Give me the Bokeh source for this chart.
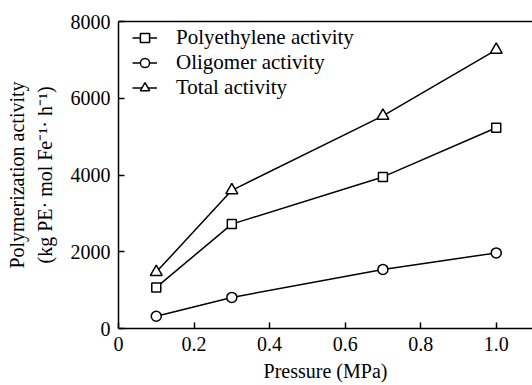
from bokeh.plotting import figure
from bokeh.models import LinearAxis, Legend, LegendItem, Title, FixedTicker, Range1d
from bokeh.embed import file_html
from bokeh.resources import INLINE

pressure = [0.1, 0.3, 0.7, 1.0]
pe_activity = [1070, 2720, 3950, 5230]
oligomer_activity = [320, 810, 1540, 1970]
total_activity = [1470, 3600, 5540, 7260]
x_ticks = [0, 0.2, 0.4, 0.6, 0.8, 1.0]
y_ticks = [0, 2000, 4000, 6000, 8000]
series_labels = ["Polyethylene activity", "Oligomer activity", "Total activity"]

FONT = "Liberation Serif"
FS = "20px"

p = figure(width=532, height=385, output_backend="svg", toolbar_location=None,
           x_range=Range1d(0, 1.096), y_range=Range1d(0, 8000),
           min_border_left=118, min_border_right=0, min_border_top=21, min_border_bottom=57)
p.outline_line_color = None
p.grid.visible = False
p.background_fill_color = "white"
p.border_fill_color = "white"

for ax in (p.xaxis[0], p.yaxis[0]):
    ax.axis_line_color = "black"
    ax.axis_line_width = 1.5
    ax.major_tick_line_color = "black"
    ax.major_tick_line_width = 1.5
    ax.major_tick_in = 6
    ax.major_tick_out = 0
    ax.minor_tick_line_color = None
    ax.major_label_text_font = FONT
    ax.major_label_text_font_size = FS
    ax.major_label_text_font_style = "normal"
    ax.major_label_text_color = "black"
    ax.axis_label_text_font = FONT
    ax.axis_label_text_font_size = FS
    ax.axis_label_text_font_style = "normal"
    ax.axis_label_text_color = "black"

p.xaxis[0].ticker = FixedTicker(ticks=x_ticks)
p.xaxis[0].major_label_overrides = {0: "0", 1: "1.0"}
p.yaxis[0].ticker = FixedTicker(ticks=y_ticks)
p.xaxis[0].axis_label = "Pressure (MPa)"
p.xaxis[0].major_label_standoff = 8
p.xaxis[0].axis_label_standoff = 6
p.yaxis[0].axis_label = "(kg PE\u00b7 mol Fe\u207b\u00b9\u00b7 h\u207b\u00b9)"
p.yaxis[0].major_label_standoff = 8
p.yaxis[0].axis_label_standoff = 12

top = LinearAxis(axis_line_color="black", axis_line_width=1.5, major_tick_line_color=None,
                 minor_tick_line_color=None, major_label_text_font_size="0px",
                 major_label_standoff=0, ticker=FixedTicker(ticks=[]))
p.add_layout(top, "above")

p.add_layout(Title(text="Polymerization activity", align="center", offset=-8,
                   text_font=FONT, text_font_size=FS, text_font_style="normal",
                   text_color="black", standoff=6), "left")

r_pe_l = p.line(pressure, pe_activity, line_color="black", line_width=1.5)
r_pe_m = p.scatter(pressure, pe_activity, marker="square", size=9, fill_color="white",
                   line_color="black", line_width=1.5)
r_ol_l = p.line(pressure, oligomer_activity, line_color="black", line_width=1.5)
r_ol_m = p.scatter(pressure, oligomer_activity, marker="circle", size=10, fill_color="white",
                   line_color="black", line_width=1.5)
r_to_l = p.line(pressure, total_activity, line_color="black", line_width=1.5)
r_to_m = p.scatter(pressure, total_activity, marker="triangle", size=12, fill_color="white",
                   line_color="black", line_width=1.5)

legend = Legend(items=[
    LegendItem(label=series_labels[0], renderers=[r_pe_l, r_pe_m]),
    LegendItem(label=series_labels[1], renderers=[r_ol_l, r_ol_m]),
    LegendItem(label=series_labels[2], renderers=[r_to_l, r_to_m]),
], location=(14, 228), orientation="vertical")
legend.margin = 0
legend.padding = 0
legend.spacing = 0
legend.glyph_width = 25
legend.glyph_height = 23
legend.label_height = 23
legend.label_standoff = 19
legend.label_text_font = FONT
legend.label_text_font_size = "21px"
legend.label_text_color = "black"
legend.border_line_color = None
legend.background_fill_alpha = 0
p.add_layout(legend)

open("out.html", "w").write(file_html(p, INLINE))
